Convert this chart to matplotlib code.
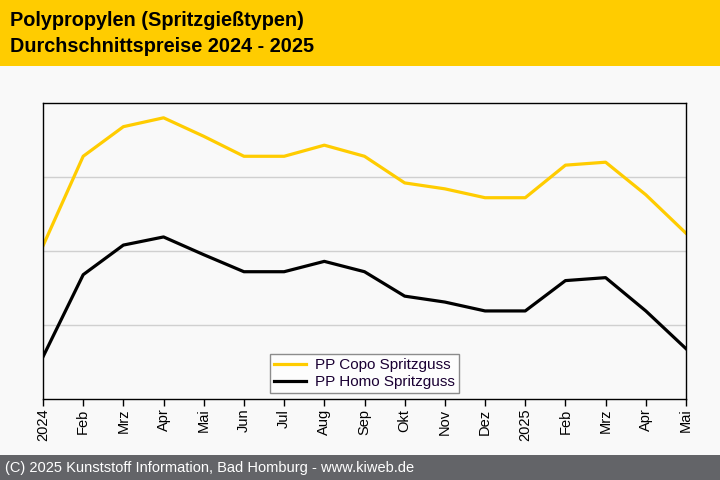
import matplotlib.pyplot as plt
from matplotlib.patches import Rectangle

plt.rcParams['font.family'] = ['Liberation Sans', 'DejaVu Sans']

# Monate Jan 2024 - Mai 2025
months = ['2024', 'Feb', 'Mrz', 'Apr', 'Mai', 'Jun', 'Jul', 'Aug', 'Sep',
          'Okt', 'Nov', 'Dez', '2025', 'Feb', 'Mrz', 'Apr', 'Mai']
# Durchschnittspreise (Skala geschaetzt, keine Achsenbeschriftung im Original)
copo = [1207, 1328, 1368, 1380, 1355, 1328, 1328, 1343, 1328,
        1292, 1284, 1272, 1272, 1316, 1320, 1276, 1224]
homo = [1057, 1168, 1208, 1219, 1195, 1172, 1172, 1186, 1172,
        1139, 1131, 1119, 1119, 1160, 1164, 1119, 1068]

fig = plt.figure(figsize=(7.2, 4.8), dpi=100)
fig.patch.set_facecolor('#f9f9f9')

# header and footer bands
fig.patches.append(Rectangle((0, 1 - 66/480), 1, 66/480, transform=fig.transFigure,
                             facecolor='#ffcc00', edgecolor='none', zorder=0))
fig.patches.append(Rectangle((0, 0), 1, 25/480, transform=fig.transFigure,
                             facecolor='#636468', edgecolor='none', zorder=0))
fig.text(10/720, 1 - 21/480, 'Polypropylen (Spritzgießtypen)', fontsize=14.3,
         fontweight='bold', va='center', ha='left')
fig.text(10/720, 1 - 46/480, 'Durchschnittspreise 2024 - 2025', fontsize=14.3,
         fontweight='bold', va='center', ha='left')
fig.text(5/720, 12/480, '(C) 2025 Kunststoff Information, Bad Homburg - www.kiweb.de',
         fontsize=10.5, color='white', va='center', ha='left')

ax = fig.add_axes([43/720, 1 - 399/480, 643/720, 296/480])
ax.set_facecolor('#f9f9f9')
x = range(len(months))
ax.plot(x, copo, color='#ffcc00', lw=2.3, label='PP Copo Spritzguss')
ax.plot(x, homo, color='black', lw=2.3, label='PP Homo Spritzguss')

ax.set_xlim(0, len(months) - 1)
ax.set_ylim(1000, 1400)
ax.set_yticks([1100, 1200, 1300])
ax.yaxis.grid(True, color='#d0d0d0', lw=1)
ax.tick_params(axis='y', length=0, labelleft=False)
ax.set_xticks(list(x))
ax.set_xticklabels(months, rotation=90, fontsize=10.5)
ax.tick_params(axis='x', length=5, width=1, pad=2)
for s in ax.spines.values():
    s.set_color('black')
    s.set_linewidth(1)

leg = ax.legend(loc='lower center', bbox_to_anchor=(0.5, 0.0), fontsize=11,
                frameon=True, fancybox=False, borderpad=0.25, handlelength=2.1,
                labelspacing=0.2, handletextpad=0.6, borderaxespad=0.4)
leg.get_frame().set_edgecolor('#707070')
leg.get_frame().set_facecolor('white')
leg.get_frame().set_linewidth(1)
for t in leg.get_texts():
    t.set_color('#1a0033')

fig.savefig('out.png', dpi=100, facecolor=fig.get_facecolor())
